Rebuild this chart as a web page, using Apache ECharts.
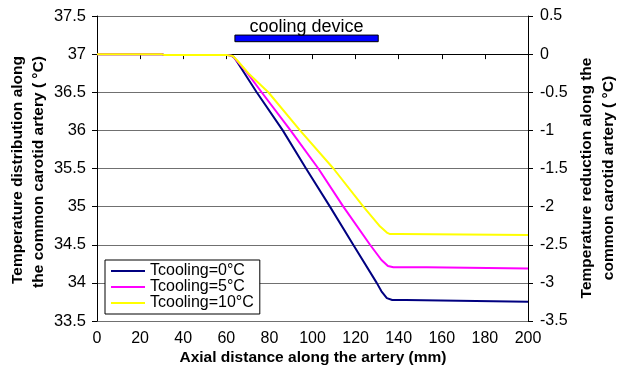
<!DOCTYPE html>
<html>
<head>
<meta charset="utf-8">
<script src="https://cdn.jsdelivr.net/npm/echarts@6/dist/echarts.min.js"></script>
<style>html,body{margin:0;padding:0;background:#fff}#c{width:619px;height:381px}</style>
</head>
<body>
<div id="c"></div>
<script>
// ---- data ----
var seriesNames = ['Tcooling=0\u00b0C', 'Tcooling=5\u00b0C', 'Tcooling=10\u00b0C'];
var x0 = [0, 30, 31, 60, 62, 63.5, 65, 74.1, 86.2, 97, 108.1, 118.9, 129.8, 132, 134.5, 137, 143.4, 143.6, 200];
var y0 = [37, 37, 36.99, 36.99, 36.985, 36.96, 36.9, 36.5, 36, 35.5, 35, 34.5, 34, 33.89, 33.8, 33.775, 33.775, 33.752, 33.752];
var x5 = [0, 30, 31, 60, 63, 65, 69, 76.4, 89.8, 102.7, 114.3, 126.7, 132, 135, 137.5, 153, 153.2, 200];
var y5 = [37, 37, 36.99, 36.99, 36.975, 36.91, 36.78, 36.5, 36, 35.5, 35, 34.5, 34.3, 34.22, 34.205, 34.205, 34.19, 34.19];
var x10 = [0, 30, 31, 60, 63, 65, 70.2, 79.5, 94.2, 109.7, 123.6, 131, 134.5, 136, 140.5, 140.7, 200];
var y10 = [37, 37, 36.99, 36.99, 36.975, 36.92, 36.75, 36.5, 36, 35.5, 35, 34.75, 34.66, 34.64, 34.64, 34.628, 34.628];
var deviceStart = 64, deviceEnd = 130.5, deviceTop = 37.25, deviceBottom = 37.163;
var deviceLabel = 'cooling device';
var xTicks = {min: 0, max: 200, step: 20};
var yLeftTicks = {min: 33.5, max: 37.5, step: 0.5};
var yRightTicks = {min: -3.5, max: 0.5, step: 0.5};

function pairs(xs, ys) { return xs.map(function (x, i) { return [x, ys[i]]; }); }

var FONT = 'Liberation Sans, Arial, sans-serif';
var chart = echarts.init(document.getElementById('c'), null, {renderer: 'canvas'});
var colors = ['#000080', '#ff00ff', '#ffff00'];
var lineSeries = [[x0, y0], [x5, y5], [x10, y10]].map(function (d, i) {
  return {
    name: seriesNames[i], type: 'line', data: pairs(d[0], d[1]),
    showSymbol: false, symbol: 'none', animation: false,
    lineStyle: {width: 2, color: colors[i]}, itemStyle: {color: colors[i]}, z: 3 + i
  };
});
lineSeries.push({
  type: 'line', data: [], silent: true, animation: false,
  markArea: {
    silent: true,
    itemStyle: {color: '#0000ff', borderColor: '#000', borderWidth: 1, opacity: 1},
    label: {show: true, position: 'top', distance: -1, color: '#000', fontSize: 18, fontFamily: FONT},
    data: [[{name: deviceLabel, coord: [deviceStart, deviceTop]}, {coord: [deviceEnd, deviceBottom]}]]
  }
});

var titleStyle = {fontSize: 15.5, fontWeight: 'bold', fontFamily: FONT, fill: '#000', align: 'center', verticalAlign: 'middle'};
function ts(t) { return Object.assign({text: t}, titleStyle); }

chart.setOption({
  animation: false,
  textStyle: {fontFamily: FONT},
  grid: {left: 97, right: 91, top: 16, bottom: 60, containLabel: false},
  legend: {
    data: seriesNames, orient: 'vertical', left: 105, top: 260,
    icon: 'rect', itemWidth: 34, itemHeight: 2, itemGap: 0,
    padding: [3, 6, 3, 6], borderColor: '#000', borderWidth: 1, backgroundColor: '#fff',
    textStyle: {fontSize: 16, lineHeight: 15, color: '#000', fontFamily: FONT}
  },
  xAxis: {
    type: 'value', min: xTicks.min, max: xTicks.max, interval: xTicks.step,
    axisLine: {lineStyle: {color: '#000', width: 1}},
    axisTick: {show: true, length: 5, lineStyle: {color: '#000'}},
    axisLabel: {color: '#000', fontSize: 16, margin: 10, fontFamily: FONT},
    splitLine: {show: false}
  },
  yAxis: [{
    type: 'value', min: yLeftTicks.min, max: yLeftTicks.max, interval: yLeftTicks.step,
    axisLine: {show: true, lineStyle: {color: '#000', width: 1}},
    axisTick: {show: true, length: 5, lineStyle: {color: '#000'}},
    axisLabel: {color: '#000', fontSize: 16.5, margin: 11, fontFamily: FONT},
    splitLine: {show: true, lineStyle: {color: '#707070', width: 1}}
  }, {
    type: 'value', min: yRightTicks.min, max: yRightTicks.max, interval: yRightTicks.step, position: 'right',
    axisLine: {show: true, lineStyle: {color: '#000', width: 1}},
    axisTick: {show: true, length: 5, lineStyle: {color: '#000'}},
    axisLabel: {color: '#000', fontSize: 16, margin: 12, fontFamily: FONT},
    splitLine: {show: false}
  }],
  graphic: [
    {type: 'text', x: 18, y: 170, rotation: Math.PI / 2, style: ts('Temperature distribution along')},
    {type: 'text', x: 39, y: 172, rotation: Math.PI / 2, style: ts('the common carotid artery ( \u00b0C)')},
    {type: 'text', x: 587, y: 178, rotation: Math.PI / 2, style: ts('Temperature reduction along the')},
    {type: 'text', x: 609, y: 178, rotation: Math.PI / 2, style: ts('common carotid artery ( \u00b0C)')},
    {type: 'text', x: 313, y: 358, style: ts('Axial distance along the artery (mm)')}
  ],
  series: lineSeries
});
</script>
</body>
</html>
